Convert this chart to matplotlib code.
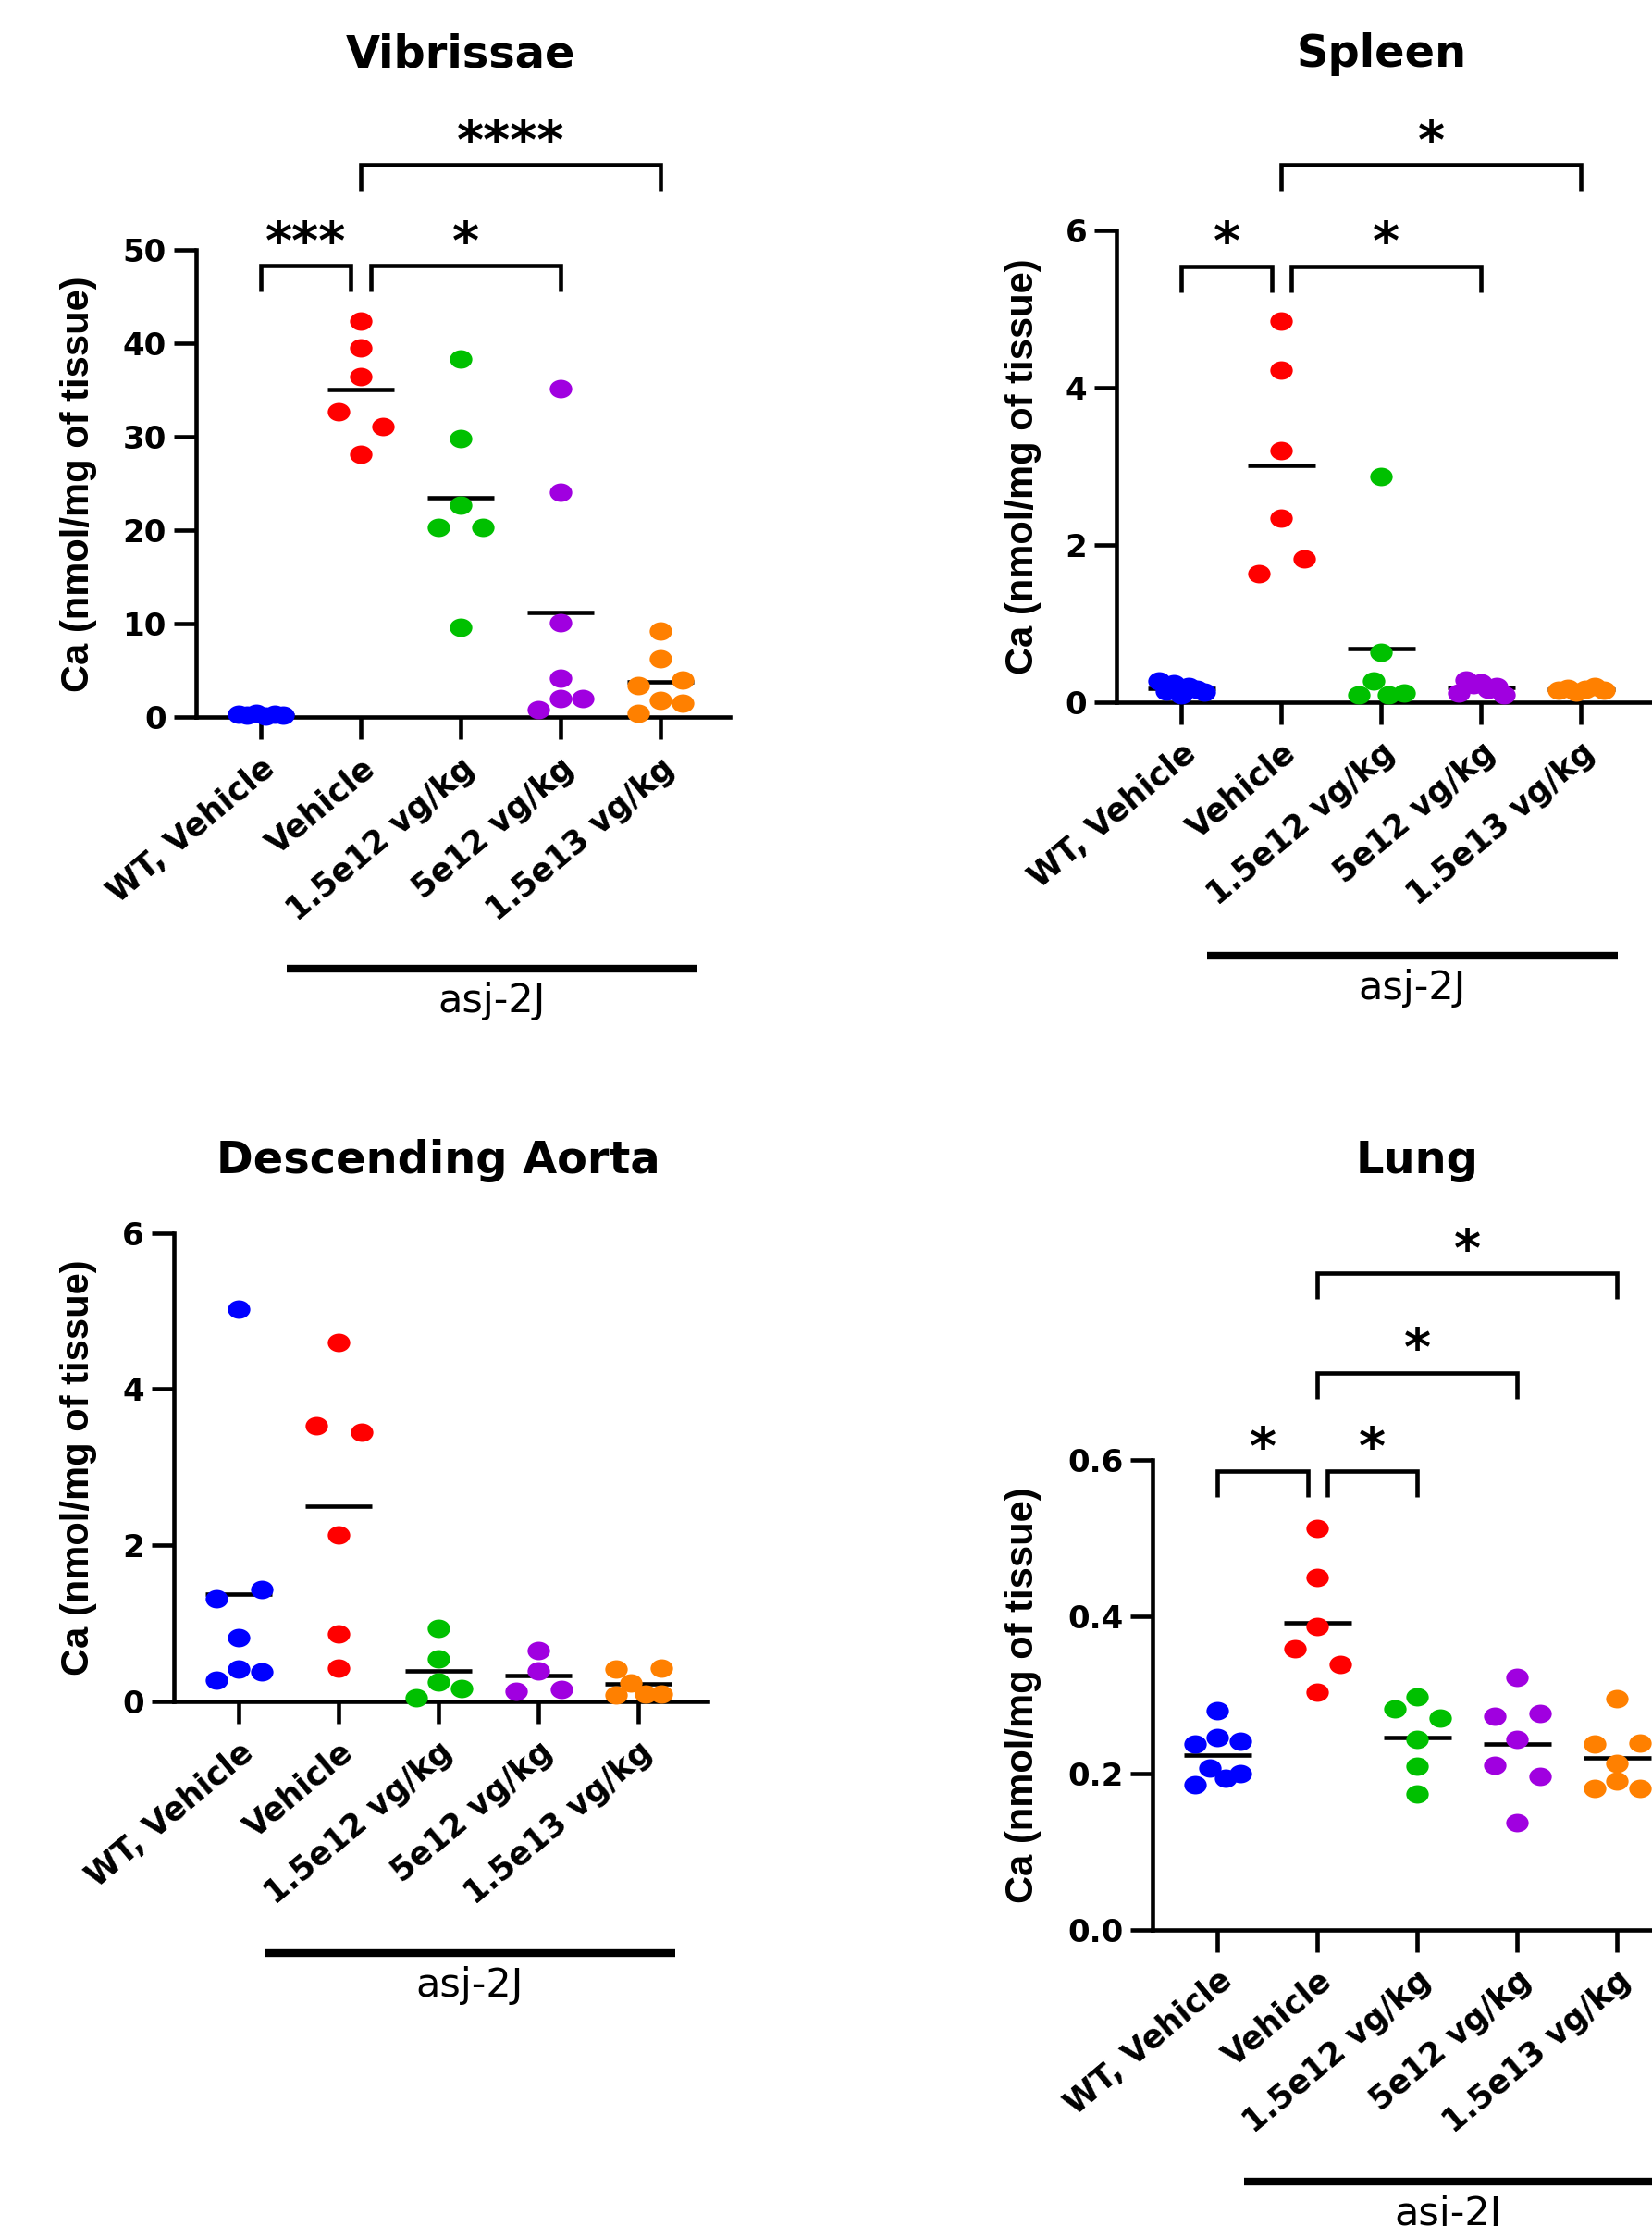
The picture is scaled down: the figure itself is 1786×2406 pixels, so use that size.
import numpy as np
import matplotlib
matplotlib.use('Agg')
import matplotlib.pyplot as plt
from matplotlib.path import Path
from matplotlib.transforms import Affine2D, blended_transform_factory

# group labels and colours
groups = ['WT, Vehicle', 'Vehicle', '1.5e12 vg/kg', '5e12 vg/kg', '1.5e13 vg/kg']
strain = 'asj-2J'
colors = ['#0000FF', '#FF0000', '#00C000', '#A000E0', '#FF8000']
ylabel = 'Ca (nmol/mg of tissue)'

# Vibrissae values (nmol/mg)
vib_wt = [0.3, 0.2, 0.4, 0.1, 0.3, 0.2]
vib_veh = [42.4, 39.5, 36.4, 32.7, 31.1, 28.1]
vib_low = [38.3, 29.8, 22.7, 20.3, 20.3, 9.6]
vib_mid = [35.2, 24.1, 10.1, 4.2, 0.8, 2.0, 2.0]
vib_high = [9.2, 6.25, 3.4, 4.05, 0.45, 1.8, 1.5]
vib_stats = [(0, 1, '***'), (1, 3, '*'), (1, 4, '****')]

# Spleen
spl_wt = [0.27, 0.14, 0.24, 0.10, 0.20, 0.16, 0.13]
spl_veh = [4.85, 4.23, 3.2, 2.34, 1.64, 1.83]
spl_low = [2.87, 0.63, 0.09, 0.27, 0.09, 0.12]
spl_mid = [0.12, 0.28, 0.22, 0.25, 0.16, 0.20, 0.10]
spl_high = [0.15, 0.18, 0.13, 0.17, 0.20, 0.15]
spl_stats = [(0, 1, '*'), (1, 3, '*'), (1, 4, '*')]

# Descending aorta
aor_wt = [5.02, 1.31, 1.43, 0.82, 0.27, 0.41, 0.38]
aor_veh = [4.6, 3.53, 3.45, 2.13, 0.86, 0.42]
aor_low = [0.93, 0.54, 0.05, 0.25, 0.17]
aor_mid = [0.65, 0.39, 0.13, 0.15]
aor_high = [0.41, 0.42, 0.08, 0.24, 0.09, 0.09]
aor_stats = []

# Lung
lun_wt = [0.28, 0.237, 0.245, 0.241, 0.185, 0.206, 0.193, 0.199]
lun_veh = [0.513, 0.45, 0.388, 0.359, 0.339, 0.303]
lun_low = [0.282, 0.298, 0.271, 0.243, 0.209, 0.173]
lun_mid = [0.322, 0.273, 0.276, 0.243, 0.21, 0.196, 0.137]
lun_high = [0.295, 0.237, 0.239, 0.212, 0.181, 0.19, 0.181]
lun_stats = [(0, 1, '*'), (1, 2, '*'), (1, 3, '*'), (1, 4, '*')]

BOLD = 'DejaVu Sans'
LW = 3.3
DOT = 17.5       # marker width in points
DOT_ASPECT = 1.22
ellipse = Path.unit_circle().transformed(Affine2D().scale(DOT_ASPECT, 1.0))

fig = plt.figure(figsize=(17.86, 24.06), dpi=100)


def row_offsets(vals, row_h, step):
    """Spread points that share a row, GraphPad style (data order left to right)."""
    vals = np.asarray(vals, dtype=float)
    order = np.argsort(vals, kind='stable')
    offs = np.zeros(len(vals))
    i = 0
    while i < len(order):
        start = vals[order[i]]
        j = i
        while j < len(order) and vals[order[j]] - start < row_h:
            j += 1
        members = sorted(order[i:j])
        if len(members) > 1:
            offs[members] = np.linspace(-step, step, len(members))
        i = j
    return offs


def panel(rect, title, title_y, ylab_x, data, ylim, yticks, fmt, stats, levels):
    ax = fig.add_axes(rect)
    ax.set_xlim(-0.65, 4.69)
    ax.set_ylim(*ylim)
    for s in ['top', 'right']:
        ax.spines[s].set_visible(False)
    for s in ['left', 'bottom']:
        ax.spines[s].set_linewidth(LW)
    ax.tick_params(width=LW, length=17, labelsize=24.5)
    ax.tick_params(axis='y', pad=6)
    ax.tick_params(axis='x', pad=10)
    ax.set_yticks(yticks)
    ax.set_yticklabels([fmt.format(t) for t in yticks], fontweight='bold', family=BOLD)
    ax.set_xticks(range(len(groups)))
    ax.set_xticklabels(groups, rotation=40, ha='right', rotation_mode='anchor',
                       fontsize=25, fontweight='bold', family=BOLD)

    # pixel scales for spreading the dots
    p0 = ax.transData.transform((0, 0))
    p1 = ax.transData.transform((1, 1))
    px_x = p1[0] - p0[0]
    px_y = p1[1] - p0[1]
    w_px = DOT * fig.dpi / 72
    h_px = w_px / DOT_ASPECT

    for i, vals in enumerate(data):
        offs = row_offsets(vals, h_px / px_y, w_px / px_x)
        ax.plot(i + offs, vals, linestyle='none', marker=ellipse, markersize=DOT,
                markeredgewidth=0, color=colors[i], clip_on=False, zorder=4)
        ax.hlines(np.mean(vals), i - 0.335, i + 0.335, color='k', lw=LW, zorder=3)

    # significance brackets
    leg = 28 / px_y
    for (a, b, lab), y in zip(stats, levels):
        x1, x2 = a, b
        for (c, d, _), y2 in zip(stats, levels):
            if y2 == y and (c, d) != (a, b):
                if d == a:
                    x1 = a + 0.1
                if c == b:
                    x2 = b - 0.1
        ax.plot([x1, x1, x2, x2], [y - leg, y, y, y - leg], color='k', lw=LW,
                clip_on=False, solid_joinstyle='miter', solid_capstyle='butt')
        ax.annotate(lab, xy=((x1 + x2) / 2, y), xytext=(0, 6), textcoords='offset points',
                    ha='center', va='baseline', fontsize=40, fontweight='bold',
                    family=BOLD, annotation_clip=False)

    # title, y label, strain bar
    tr = blended_transform_factory(ax.transData, fig.transFigure)
    fig.text(2, title_y, title, transform=tr, ha='center', va='baseline',
             fontsize=34.5, fontweight='bold', family=BOLD)
    pos = ax.get_position()
    fig.text(ylab_x, pos.y0 + pos.height / 2, ylabel, rotation=90, ha='center', va='center',
             fontsize=30, fontweight='bold', family='Liberation Sans')
    tb = blended_transform_factory(ax.transData, ax.transAxes)
    ax.plot([0.26, 4.37], [-0.537, -0.537], color='k', lw=6, transform=tb,
            clip_on=False, solid_capstyle='butt')
    ax.text(2.31, -0.607, strain, transform=tb, ha='center', va='center',
            fontsize=31, family=BOLD)
    return ax


panel([0.1186, 0.6777, 0.3229, 0.2101], 'Vibrissae', 0.9699, 0.0476,
      [vib_wt, vib_veh, vib_low, vib_mid, vib_high], (0, 50), [0, 10, 20, 30, 40, 50],
      '{:.0f}', vib_stats, [48.3, 48.3, 59.1])
panel([0.6759, 0.68454, 0.3229, 0.2118], 'Spleen', 0.9699, 0.6193,
      [spl_wt, spl_veh, spl_low, spl_mid, spl_high], (0, 6), [0, 2, 4, 6],
      '{:.0f}', spl_stats, [5.55, 5.55, 6.84])
panel([0.1053, 0.2357, 0.3229, 0.2104], 'Descending Aorta', 0.4728, 0.0476,
      [aor_wt, aor_veh, aor_low, aor_mid, aor_high], (0, 6), [0, 2, 4, 6],
      '{:.0f}', aor_stats, [])
panel([0.6978, 0.13317, 0.3229, 0.2108], 'Lung', 0.4728, 0.6193,
      [lun_wt, lun_veh, lun_low, lun_mid, lun_high], (0, 0.6), [0, 0.2, 0.4, 0.6],
      '{:.1f}', lun_stats, [0.586, 0.586, 0.712, 0.839])

fig.savefig('out.png', dpi=100)
